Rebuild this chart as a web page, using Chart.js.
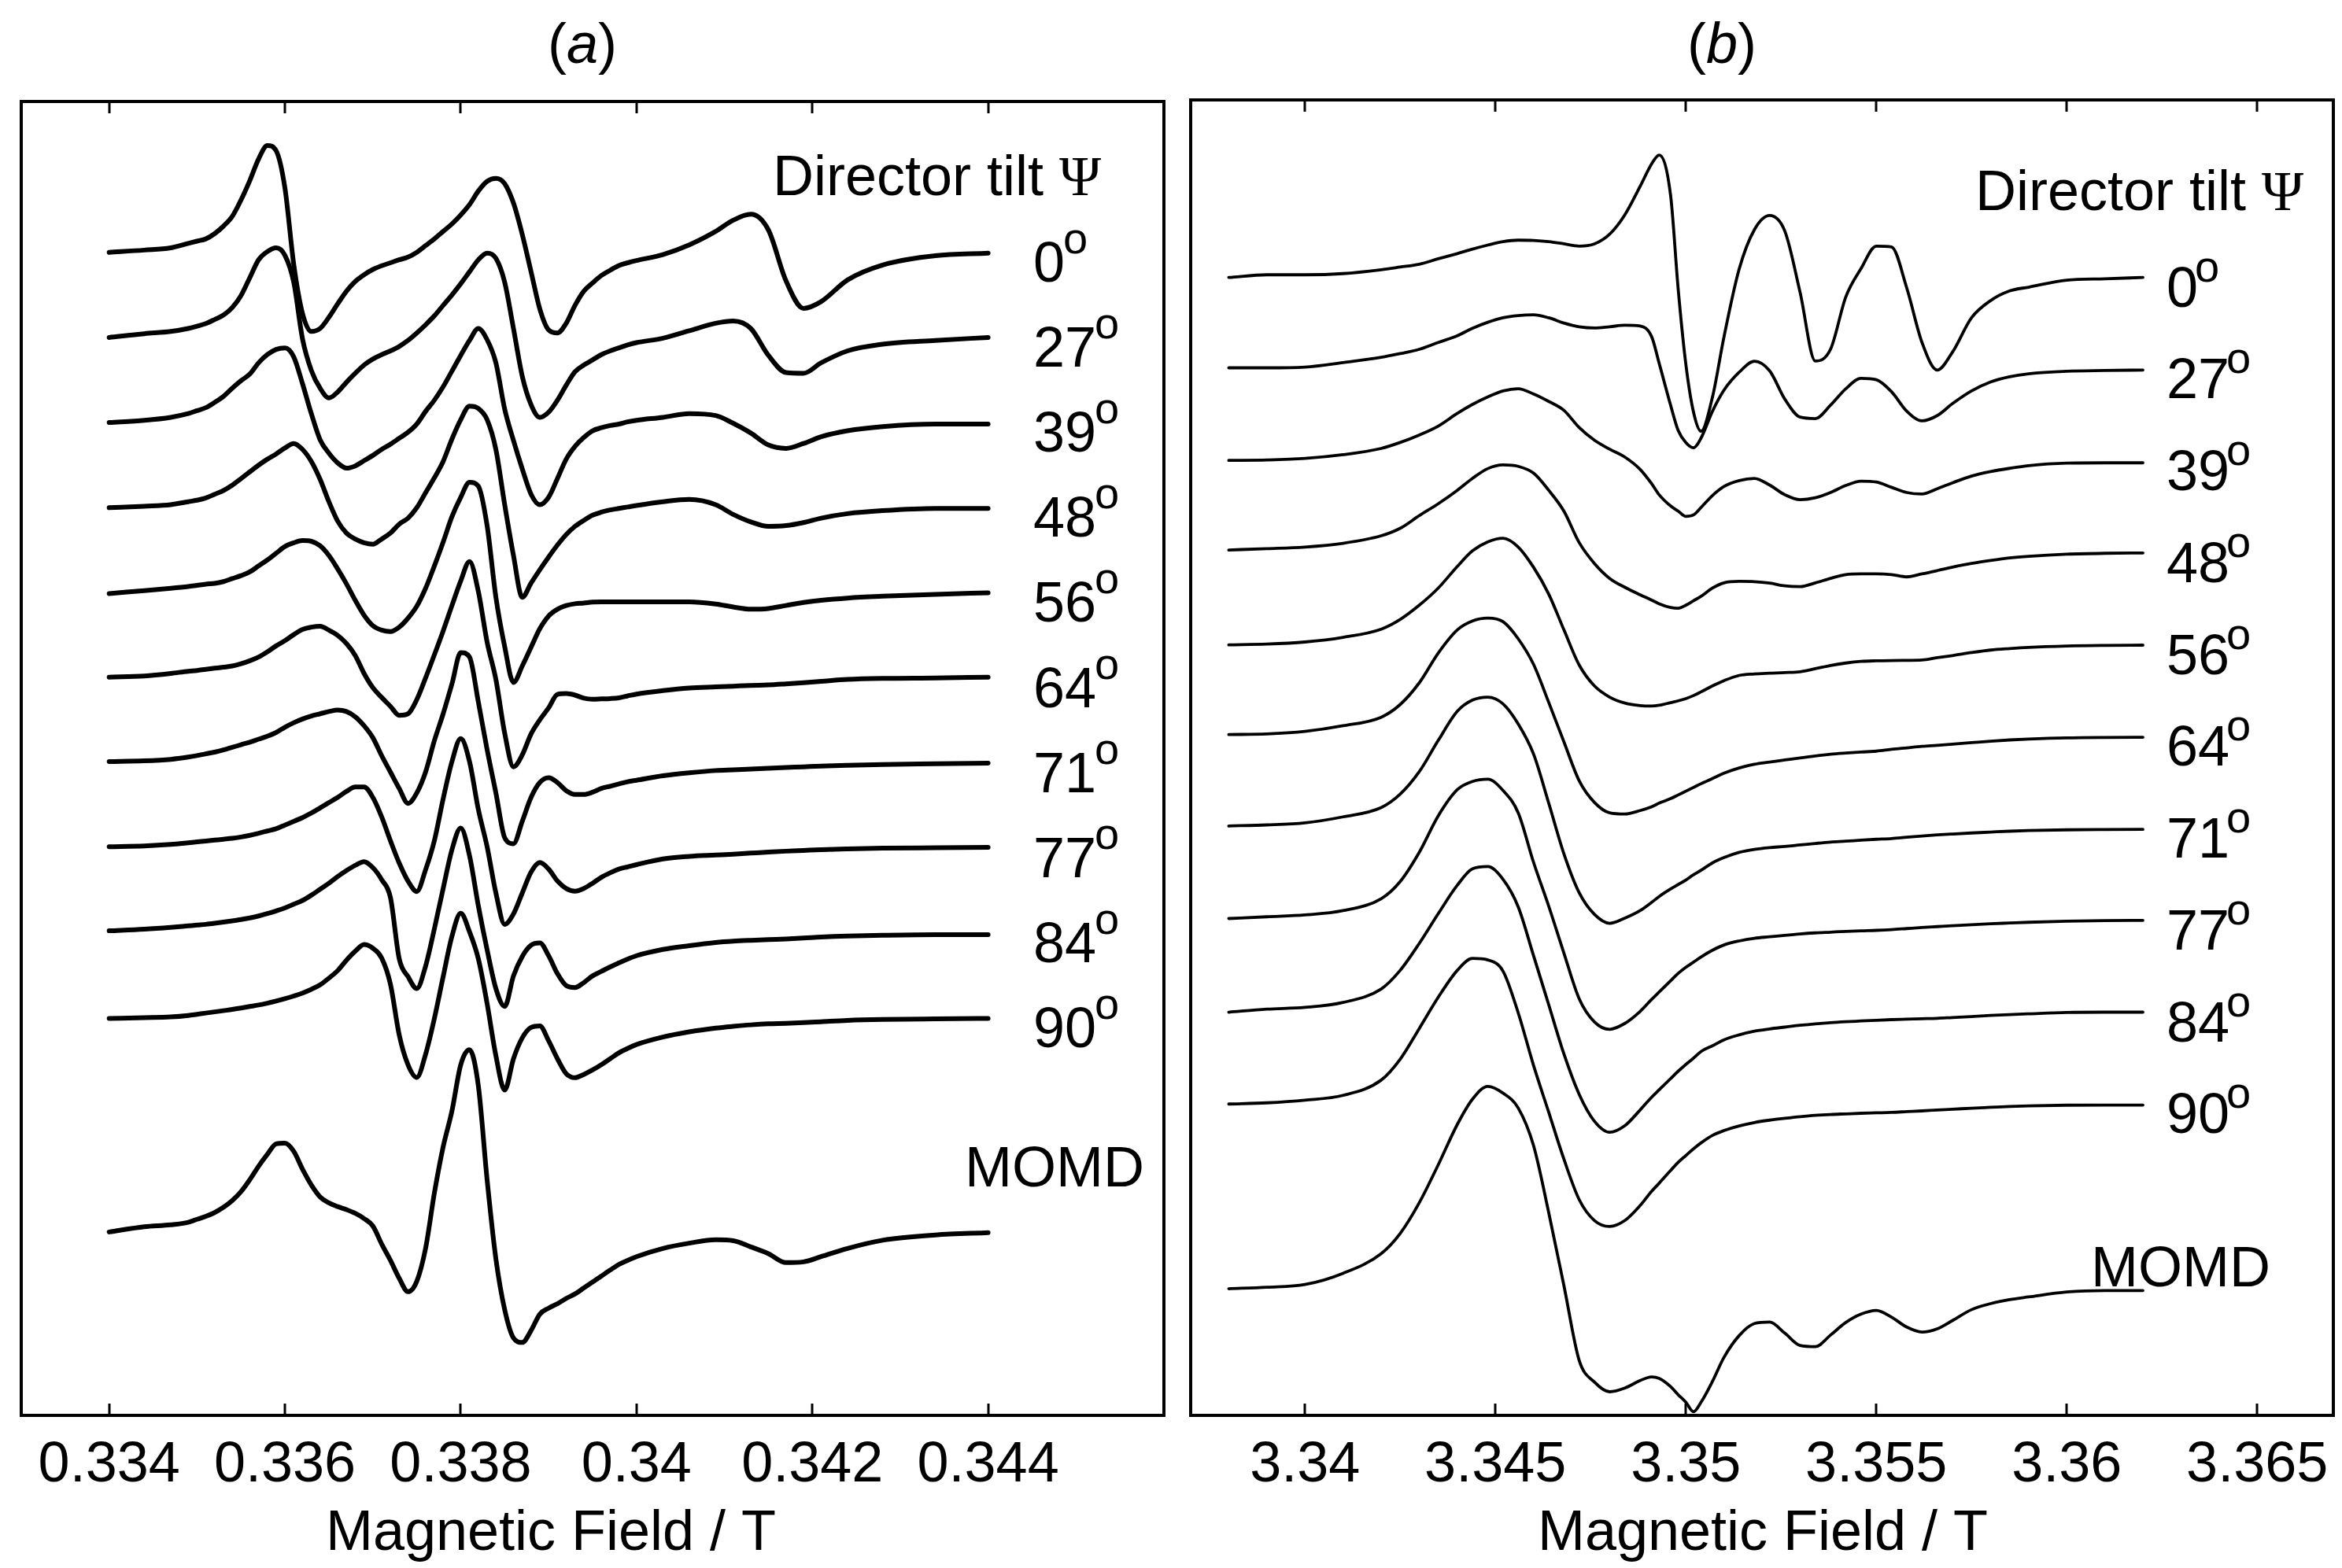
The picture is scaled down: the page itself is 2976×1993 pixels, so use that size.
<!DOCTYPE html>
<html>
<head>
<meta charset="utf-8">
<script src="https://cdn.jsdelivr.net/npm/chart.js@4.4.1/dist/chart.umd.min.js"></script>
<style>
  html, body { margin: 0; padding: 0; background: #fff; }
  #wrap { position: relative; width: 2976px; height: 1993px; overflow: hidden; background: #fff; }
  canvas { position: absolute; top: 0; }
  #panelA { left: 0; }
  #panelB { left: 1496px; }
</style>
</head>
<body>
<div id="wrap">
  <canvas id="panelA" width="1496" height="1993"></canvas>
  <canvas id="panelB" width="1480" height="1993"></canvas>
</div>
<script>
// ---- data (signal in arbitrary units) ----
const tiltAngles = [0, 27, 39, 48, 56, 64, 71, 77, 84, 90]

// panel (a): field in T
const fieldA = [0.334, 0.3344, 0.3347, 0.3349,
  0.3350, 0.3351, 0.3352, 0.3353, 0.3354, 0.3355, 0.3356, 0.3357, 0.3358, 0.3359,
  0.3360, 0.3361, 0.3362, 0.3363, 0.3364, 0.3365, 0.3366, 0.3367, 0.3368, 0.3369,
  0.3370, 0.3371, 0.3372, 0.3373, 0.3374, 0.3375, 0.3376, 0.3377, 0.3378, 0.3379,
  0.3380, 0.3381, 0.3382, 0.3383, 0.3384, 0.3385, 0.3386, 0.3387, 0.3388, 0.3389,
  0.3390, 0.3391, 0.3392, 0.3393, 0.3394, 0.3395, 0.3396, 0.3397, 0.3398, 0.3399,
  0.3400,
  0.3403, 0.3406, 0.3409, 0.3411, 0.3413, 0.3415, 0.3417, 0.3419, 0.3421, 0.3424, 0.3428, 0.3434, 0.344]
const ticksA = [0.334, 0.336, 0.338, 0.34, 0.342, 0.344]

const a0 = [0, 1.5, 3, 6,
  7.5, 9, 12.5, 17.5, 24, 35, 48, 62.5, 71.5, 68,
  43, -8, -41, -53, -51, -43.5, -34.5, -26, -19.5, -15,
  -11.5, -9, -7, -5, -3.2, 0, 4.5, 9, 14, 19,
  25, 32, 41, 47.5, 49.5, 46, 33, 12, -13, -38,
  -52, -54, -47.5, -35.5, -26, -20.5, -15.5, -12, -8.8, -7,
  -5.5,
  -1.5, 5, 14, 21.5, 25.5, 15, -19, -37.5, -33, -18.5, -8.5, -2.3, -0.5]
const a27 = [0, 2.5, 4, 6,
  7.5, 9.3, 12, 15, 20, 28, 40, 52, 57.5, 60,
  55, 37, -1, -22, -34, -40.5, -36.5, -30, -24, -18.5,
  -14.5, -11.5, -9, -6, -2, 3, 8.5, 14.5, 21.5, 28.5,
  36, 44, 52, 56.5, 53, 37, 6, -26, -45, -53.5,
  -50, -42, -32, -23, -18.5, -15, -11.5, -9, -7, -5,
  -3.5,
  -0.5, 4.5, 9.5, 11, 6, -12, -23.5, -24, -17, -9, -4.5, -2, 0]
const a39 = [0, 1.5, 3.5, 6,
  8, 10, 13.5, 17.5, 23, 28, 32.5, 40, 45.5, 49,
  50, 44, 26, 6, -11.5, -20.5, -27, -30.5, -29, -25.5,
  -22, -18, -14.5, -10.5, -6.5, -1, 7.5, 15, 24, 34.5,
  45, 55, 63, 55.5, 40, 9, -12, -31, -48, -55,
  -50, -37.5, -24.5, -16, -10, -5.5, -3.5, -2, -1, 0.5,
  1.5,
  3.5, 6, 4.7, -0.5, -7, -15, -17.3, -14, -9.5, -5.5, -2.7, -1, -1]
const a48 = [0, 1, 2, 4,
  5, 6.5, 9, 11.5, 15, 19.5, 24, 28.5, 32.5, 36,
  40, 43, 39, 31, 19, 4, -9, -17, -21, -23.5,
  -24.5, -21, -17, -11, -7, 0, 10, 20, 31, 46,
  59, 68, 66.5, 59, 39, 2, -32, -60, -50.5, -41.5,
  -33, -25, -18, -12.5, -8.5, -5, -3, -1.5, -0.5, 0.5,
  1.5,
  4, 5.5, 2, -4.5, -9.5, -12.5, -12, -10, -7, -4, -2, -0.5, -0.5]
const a56 = [-0.5, 1.5, 3, 4.2,
  5, 5.8, 6.3, 7.5, 9.5, 11.5, 14, 18, 22, 26.5,
  31, 33.5, 35, 34.5, 31.5, 25, 16, 6, -5, -15,
  -22, -25, -26, -23, -17, -9, 3, 18, 34, 51,
  64, 74, 71.5, 45, -3, -36, -60, -49, -36.5, -24,
  -15.5, -11, -8.5, -7.3, -6.8, -6.2, -6, -6, -6, -6,
  -6,
  -6, -6, -7.5, -9.5, -11, -10.5, -8.5, -6.5, -5, -3.5, -2.3, -1, 0]
const a64 = [0.5, 1.3, 3, 4.5,
  5, 5.8, 6.5, 7.2, 8, 9.5, 11.5, 14, 17.5, 21.5,
  25, 29, 32.5, 34, 34.6, 32, 28.5, 23, 15, 3,
  -6.5, -13, -19, -25, -24, -14.5, 0, 15.5, 31.5, 48.5,
  65, 78, 58, 24, -1, -37, -59.5, -51.5, -37.5, -28,
  -20, -11, -10.5, -11.5, -13.5, -14.2, -14, -13.8, -13.3, -12,
  -10.8,
  -8.5, -6.8, -6, -5.5, -5, -4.7, -4, -3.2, -2.3, -1, -0.3, 0, 0.5]
const a71 = [1, 1.5, 2.5, 4,
  5, 6.2, 7.3, 8.8, 10.5, 12.3, 14, 16, 18, 20.5,
  24, 27, 29.5, 31.5, 33, 34.5, 35.5, 34.5, 31, 25,
  17, 5, -6, -17, -27, -20, -6, 15, 33, 53,
  74, 71, 41, 9, -20, -50, -54, -39, -23, -13,
  -9.8, -13, -18.5, -21, -21, -19.5, -17, -15.5, -14, -12.5,
  -11.5,
  -8.5, -6.5, -5, -4.5, -4, -3.5, -3, -2.5, -2, -1.5, -1, -0.5, 0]
const a77 = [1, 1.5, 2.5, 3.6,
  4.2, 4.8, 5.4, 6, 6.6, 7.5, 8.6, 10, 11.5, 13,
  15.5, 18, 20.5, 23.5, 27, 30.5, 34, 38, 41, 41,
  34, 21, 5, -10, -22, -29, -14.5, 5, 33, 58,
  73.4, 58, 26, 1, -30, -51, -44, -30, -16, -9.6,
  -14, -22, -27, -28.8, -27, -23.5, -19.5, -16.5, -14, -12.5,
  -11,
  -7.2, -5.5, -4.6, -4, -3.3, -2.6, -2, -1.5, -1, -0.5, 0, 0.3, 0.6]
const a84 = [1.7, 2.8, 4, 5,
  5.5, 6, 6.7, 7.5, 8.3, 9.2, 10.3, 11.6, 13.2, 15,
  17, 19.5, 22, 25.5, 29.5, 33.5, 38, 42, 45.5, 48,
  44, 36, 24, -17, -29, -37, -22, 3, 30, 56,
  70.5, 52, 18.5, -11, -37, -49, -28.5, -15.5, -8, -6.5,
  -15, -27, -35, -36.3, -33, -28.5, -25.5, -22.5, -19.8, -17.2,
  -15,
  -10.8, -8.3, -6.2, -5.3, -4.7, -4.2, -3.8, -3.2, -2.5, -1.8, -1.3, -0.9, -0.9]
const a90 = [0, 0.5, 1, 2,
  2.8, 3.6, 4.4, 5.2, 6, 7, 8, 9, 10.2, 11.6,
  13.2, 15, 17, 19.5, 22.5, 27, 32, 39, 45, 49.5,
  47, 40.5, 23, -11, -31, -39.5, -24, 0, 28, 55,
  70.5, 58, 40, 10, -25, -48, -27, -13, -6, -5,
  -15, -27, -37, -39.7, -37.5, -34.5, -31, -27, -23, -20,
  -17.5,
  -12.5, -9, -6.5, -5.3, -4.3, -3.6, -3.3, -2.8, -2.2, -1.3, -0.7, -0.3, 0]
const aMomd = [0, 3.5, 4.8, 6.5,
  8.5, 10.5, 13, 16.5, 21, 27, 35, 44, 52, 59,
  59.5, 54, 42, 31.5, 23.5, 19.5, 17, 15, 12.5, 9,
  4, -8, -19, -31, -40, -33, -11, 26, 57, 81,
  112, 122, 98, 35, -18, -52, -71, -74, -66, -55,
  -51, -48, -44.5, -41.5, -37.5, -33.5, -29.5, -25.5, -21.7, -19,
  -16.5,
  -11, -7.5, -5.2, -5.8, -10, -14.5, -20.5, -20, -16.5, -11, -5.5, -2, -0.4]

// panel (b): field in T
const fieldB = [3.338, 3.339, 3.340, 3.341, 3.342, 3.3425, 3.343, 3.3435, 3.344,
  3.3444, 3.3448, 3.3452, 3.3456, 3.346, 3.3464, 3.3468, 3.3472, 3.3476, 3.348,
  3.3484, 3.3488, 3.3491, 3.3493, 3.3496, 3.3498, 3.35, 3.3502, 3.3504, 3.3507, 3.351,
  3.3514, 3.3518, 3.3522, 3.3526, 3.353, 3.3534, 3.3538, 3.3542, 3.3546, 3.355,
  3.3554, 3.3558, 3.3562, 3.3566, 3.357, 3.3575, 3.358, 3.3585, 3.359, 3.36, 3.361, 3.362]
const ticksB = [3.34, 3.345, 3.35, 3.355, 3.36, 3.365]

const b0 = [0, 1.8, 1.8, 2.6, 5.2, 7, 8.9, 12.5, 16,
  19, 21.7, 24, 25, 24.8, 24, 22.5, 21, 22.5, 29,
  42, 61, 76, 82, 55, -8, -58, -90, -103, -80, -40,
  5.6, 32, 41.5, 31, -10, -56, -48, -13, 6, 21,
  20.5, -7, -43.5, -62, -50, -27, -15.5, -9, -6.5, -1.8, -0.9, 0]
const b27 = [1, 1, 1.5, 4.5, 8, 10.5, 13.4, 18, 22.5,
  27.5, 31.5, 34.5, 36, 36.5, 34.5, 31, 28.5, 27.7, 28.5,
  29.5, 29, 22, 4, -24, -41, -49, -52.5, -46, -28, -14,
  -2, 5.4, -1, -20, -32, -33, -24, -13, -6, -7,
  -15, -28, -34.5, -31, -23, -14.5, -8.5, -5, -3, -1.3, -0.8, -0.5]
const b39 = [0.5, 0.8, 1.8, 4.3, 8.5, 12.5, 17.5, 23.5, 32,
  38, 43, 47, 48.5, 45, 40, 34, 22.5, 14, 8,
  2.7, -5.5, -15, -22.5, -30, -33.5, -37, -36, -31, -23, -17,
  -13, -11.6, -16, -22.5, -25.8, -24.5, -21, -16.3, -13.4, -14,
  -17.5, -21, -22, -18.5, -14.5, -10, -7, -4.8, -3, -1.3, -1.1, -1.1]
const b48 = [2, 2.9, 4, 6.5, 11.5, 16.5, 25, 33, 42,
  50, 56.5, 59, 58, 53.5, 42, 28, 7, -7, -17,
  -23, -28, -31.5, -34, -36.5, -37, -35, -32, -29, -23.5, -20,
  -19, -19.2, -20.2, -22, -22.5, -20, -17, -14.5, -14, -14,
  -14.5, -16, -14, -11.8, -9.5, -7, -5, -3.3, -2.2, -0.8, -0.2, 0]
const b56 = [0, 0.5, 1.9, 5, 10.5, 17, 26.5, 38, 52.5,
  63, 69, 71.4, 65.5, 52, 34, 10, -13.5, -27.5, -35,
  -39, -40.7, -41, -40.5, -38.7, -37.5, -36, -34, -31.5, -27.5, -24,
  -20.5, -19.5, -19, -18.6, -18, -16, -13.8, -12.2, -11.1, -10.7,
  -10.5, -10.4, -10.2, -8.6, -7.2, -5.2, -3.5, -2.5, -1.7, -0.8, -0.4, -0.2]
const b64 = [1.4, 1.8, 3.5, 7.3, 13, 21.5, 36, 56, 71.5,
  77.5, 79.4, 77, 65.5, 48.5, 23, -3.5, -29.5, -44, -51,
  -51.8, -49.5, -47, -44.5, -41.5, -39, -36.5, -34, -31.5, -28, -24.5,
  -21, -18.5, -17, -15.6, -14.2, -12.9, -11.8, -11, -10.3, -9.7,
  -8.5, -7.5, -6.5, -5.8, -5, -4, -3, -2.2, -1.6, -0.8, -0.5, -0.4]
const b71 = [1.7, 2.4, 3.8, 7.8, 14, 23, 38, 59, 78.5,
  86, 88, 83.5, 70, 50, 17, -17, -43, -57.5, -63.5,
  -60, -55, -49.5, -45.5, -40.5, -37.5, -34.5, -31, -28, -23, -19.5,
  -16, -14, -12.8, -12, -11, -10, -9.1, -8.5, -7.8, -7.2,
  -6.7, -5.8, -5, -4.3, -3.7, -3, -2.4, -1.8, -1.4, -0.9, -0.7, -0.6]
const b77 = [1.2, 2.4, 3.6, 6.5, 14.5, 26, 45.5, 70, 87.5,
  93, 94.5, 87, 72, 39, 9.5, -22, -52.5, -68, -73,
  -69, -61, -53, -48, -40.5, -35.5, -31.5, -28, -24.5, -20, -16.5,
  -13.8, -12, -11, -10, -9.1, -8.4, -7.9, -7.4, -7, -6.7,
  -6.2, -5.5, -4.8, -4.2, -3.6, -2.9, -2.3, -1.8, -1.3, -0.6, -0.2, 0]
const b84 = [0, 2, 3.2, 6.5, 15.5, 28, 46, 66, 85,
  96, 97.5, 89, 70.5, 38, 5, -28, -55, -73, -80.4,
  -76, -65.5, -57, -52, -44.5, -39.5, -35, -30.8, -26.3, -22.5, -18.5,
  -15.2, -12.7, -11.2, -10, -8.8, -7.8, -7, -6.4, -5.9, -5.4,
  -5, -4.7, -4.4, -4.1, -3.6, -3, -2.2, -1.6, -1.1, -0.2, 0, 0]
const b90 = [0, 0.8, 2.6, 5.8, 16, 30, 50.5, 71.5, 89.5,
  97.5, 96.5, 89, 61, 26, -5.5, -37, -64, -78, -82,
  -78, -68, -58.5, -53, -44.5, -39, -34.5, -30, -26, -21, -17.8,
  -14.7, -12.4, -10.8, -9.6, -8.5, -7.6, -7, -6.6, -6.2, -5.9,
  -5.6, -5.1, -4.6, -4, -3.5, -2.8, -2.2, -1.6, -1.2, -0.8, -0.7, -0.7]
const bMomd = [0, 1, 2.8, 10.3, 23.5, 37, 57.5, 83, 110,
  127, 135.5, 131, 121, 96, 51, 2, -48, -62.5, -69,
  -66.5, -61.5, -59, -60, -65.5, -71, -76, -82.4, -76, -62, -46,
  -31.4, -23.3, -22.3, -29.8, -38, -38.8, -31, -22.6, -17, -14.5,
  -19, -25.7, -29, -26.8, -21.3, -14, -10, -7.3, -5.5, -2.2, -1.2, -1.2]

const seriesA = [a0, a27, a39, a48, a56, a64, a71, a77, a84, a90]
const seriesB = [b0, b27, b39, b48, b56, b64, b71, b77, b84, b90]

// ---- drawing ----
const SANS = "'Liberation Sans', Arial, Helvetica, sans-serif"
const SERIF = "'Liberation Serif', 'Times New Roman', serif"
Chart.defaults.font.family = SANS
Chart.defaults.color = "#000"

function stackOffsets(n, step, momdShift) {
  const out = []
  for (let i = 0; i < n; i++) out.push(i * step)
  out.push(momdShift)
  return out
}

function makeSets(field, traces, offsets, width) {
  return traces.map((s, i) => ({
    label: i < tiltAngles.length ? tiltAngles[i] + "°" : "MOMD",
    data: s.map((v, k) => ({ x: field[k], y: v - offsets[i] })),
    borderColor: "#000",
    borderWidth: width,
    pointRadius: 0,
    fill: false,
    cubicInterpolationMode: "monotone",
    borderJoinStyle: "round",
    borderCapStyle: "round",
  }))
}

const panelDecor = {
  id: "panelDecor",
  afterDraw(chart, args, o) {
    const { ctx, chartArea: ca, scales } = chart
    const xs = scales.x
    const ys = scales.y
    ctx.save()
    ctx.fillStyle = "#000"
    ctx.strokeStyle = "#000"

    // frame + inward ticks top and bottom
    ctx.lineWidth = 4
    ctx.strokeRect(ca.left, ca.top, ca.right - ca.left, ca.bottom - ca.top)
    ctx.lineWidth = 3
    ctx.beginPath()
    xs.ticks.forEach((t) => {
      const px = Math.round(xs.getPixelForValue(t.value))
      ctx.moveTo(px, ca.bottom)
      ctx.lineTo(px, ca.bottom - 15)
      ctx.moveTo(px, ca.top)
      ctx.lineTo(px, ca.top + 15)
    })
    ctx.stroke()

    // panel letter "(a)" with italic letter
    ctx.textBaseline = "alphabetic"
    ctx.textAlign = "left"
    const up = "72px " + SANS
    const it = "italic 72px " + SANS
    ctx.font = up
    const wP = ctx.measureText("(").width
    const wQ = ctx.measureText(")").width
    ctx.font = it
    const wL = ctx.measureText(o.letter).width
    let tx = o.letterX - (wP + wL + wQ) / 2
    ctx.font = up
    ctx.fillText("(", tx, 80)
    ctx.font = it
    ctx.fillText(o.letter, tx + wP, 80)
    ctx.font = up
    ctx.fillText(")", tx + wP + wL, 80)

    // legend title
    ctx.font = up
    ctx.fillText("Director tilt ", o.headX, o.headBase)
    const wd = ctx.measureText("Director tilt ").width
    ctx.font = "72px " + SERIF
    ctx.fillText("Ψ", o.headX + wd, o.headBase)

    // tilt labels with superscript o
    o.offsets.forEach((off, i) => {
      const base = ys.getPixelForValue(-off)
      if (i < tiltAngles.length) {
        ctx.font = up
        const s = String(tiltAngles[i])
        ctx.fillText(s, o.labelX, base + 37)
        const w = ctx.measureText(s).width
        ctx.font = "56px " + SANS
        ctx.fillText("o", o.labelX + w + o.supGap, base + 37 - o.supRise)
      } else {
        ctx.font = up
        ctx.fillText("MOMD", o.momdX, base - o.momdRise)
      }
    })

    // axis title
    ctx.font = up
    ctx.textAlign = "center"
    ctx.textBaseline = "middle"
    ctx.fillText("Magnetic Field / T", o.axisX, 1950)
    ctx.restore()
  },
}

function makeChart(id, cfg) {
  const offsets = stackOffsets(tiltAngles.length, cfg.step, cfg.momdShift)
  return new Chart(document.getElementById(id), {
    type: "line",
    data: { datasets: makeSets(cfg.field, cfg.traces, offsets, cfg.width) },
    options: {
      responsive: false,
      animation: false,
      devicePixelRatio: 1,
      parsing: false,
      layout: { padding: cfg.padding },
      scales: {
        x: {
          type: "linear",
          min: cfg.xmin,
          max: cfg.xmax,
          afterBuildTicks: (s) => {
            s.ticks = cfg.ticks.map((v) => ({ value: v }))
          },
          afterFit: (s) => {
            s.height = 194
          },
          grid: { display: false },
          border: { display: false },
          ticks: {
            font: { size: 72, family: SANS },
            color: "#000",
            padding: 13,
            maxRotation: 0,
            autoSkip: false,
            callback: (v) => String(Number(Number(v).toFixed(3))),
          },
        },
        y: { display: false, min: cfg.ymin, max: cfg.ymax },
      },
      plugins: {
        legend: { display: false },
        tooltip: { enabled: false },
        panelDecor: Object.assign({ offsets }, cfg.decor),
      },
    },
    plugins: [panelDecor],
  })
}

makeChart("panelA", {
  field: fieldA,
  traces: seriesA.concat([aMomd]),
  ticks: ticksA,
  step: 57,
  momdShift: 656,
  width: 6,
  xmin: 0.333,
  xmax: 0.346,
  ymin: -778.8,
  ymax: 101,
  padding: { left: 27, right: 17, top: 129, bottom: 0 },
  decor: {
    letter: "a", letterX: 740,
    headX: 982, headBase: 248,
    labelX: 1313, supRise: 36, supGap: -2,
    momdX: 1226, momdRise: 58,
    axisX: 700,
  },
})

makeChart("panelB", {
  field: fieldB,
  traces: seriesB.concat([bMomd]),
  ticks: ticksB,
  step: 61.5,
  momdShift: 677.2,
  width: 3.8,
  xmin: 3.337,
  xmax: 3.367,
  ymin: -762,
  ymax: 118.9,
  padding: { left: 17, right: 11, top: 127, bottom: 0 },
  decor: {
    letter: "b", letterX: 692,
    headX: 1014, headBase: 267,
    labelX: 1257, supRise: 32, supGap: -4,
    momdX: 1161, momdRise: 3,
    axisX: 744,
  },
})
</script>
</body>
</html>
